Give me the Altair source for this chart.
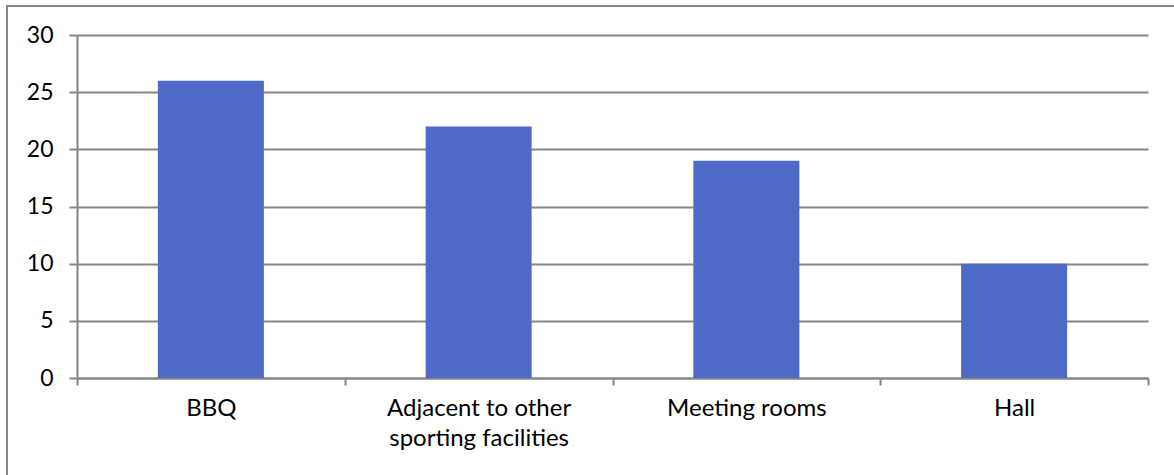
import altair as alt
import pandas as pd

categories = ["BBQ", "Adjacent to other sporting facilities", "Meeting rooms", "Hall"]
counts = [26, 22, 19, 10]

df = pd.DataFrame({"category": categories, "count": counts})

GRID = "#868686"
FONT = "Lato"

bars = alt.Chart(df).mark_bar(color="#4F69C6", width=alt.RelativeBandSize(0.396)).encode(
    x=alt.X(
        "category:N",
        sort=categories,
        scale=alt.Scale(paddingInner=0, paddingOuter=0),
        axis=alt.Axis(
            title=None,
            labelAngle=0,
            tickBand="extent",
            tickSize=7,
            tickWidth=2,
            tickColor=GRID,
            domainColor=GRID,
            domainWidth=2,
            labelPadding=11,
            labelFontSize=24,
            labelFont=FONT,
            labelColor="#000000",
            labelLineHeight=30,
            labelLimit=400,
            labelExpr="datum.label == 'Adjacent to other sporting facilities' ? ['Adjacent to other', 'sporting facilities'] : datum.label",
        ),
    ),
    y=alt.Y(
        "count:Q",
        scale=alt.Scale(domain=[0, 30], nice=False),
        axis=alt.Axis(
            title=None,
            values=[0, 5, 10, 15, 20, 25, 30],
            tickSize=8,
            tickWidth=2,
            tickColor=GRID,
            gridColor=GRID,
            gridWidth=2,
            domainColor=GRID,
            domainWidth=2,
            labelPadding=16,
            labelFontSize=23,
            labelFont=FONT,
            labelColor="#000000",
        ),
    ),
)

# outer frame around the whole figure
frame = alt.Chart(df).mark_rect(
    fill=None, stroke=GRID, strokeWidth=2, clip=False
).encode(
    x=alt.value(-70), x2=alt.value(1110), y=alt.value(-29), y2=alt.value(120 + 343)
)

chart = alt.layer(bars, frame).properties(
    width=1071,
    height=343,
    autosize=alt.AutoSizeParams(type="none"),
    padding={"left": 77, "top": 35, "right": 26, "bottom": 97},
    background="#ffffff",
).configure_view(stroke=None)

chart.save("out.html", embed_options={"renderer": "svg", "actions": False})
